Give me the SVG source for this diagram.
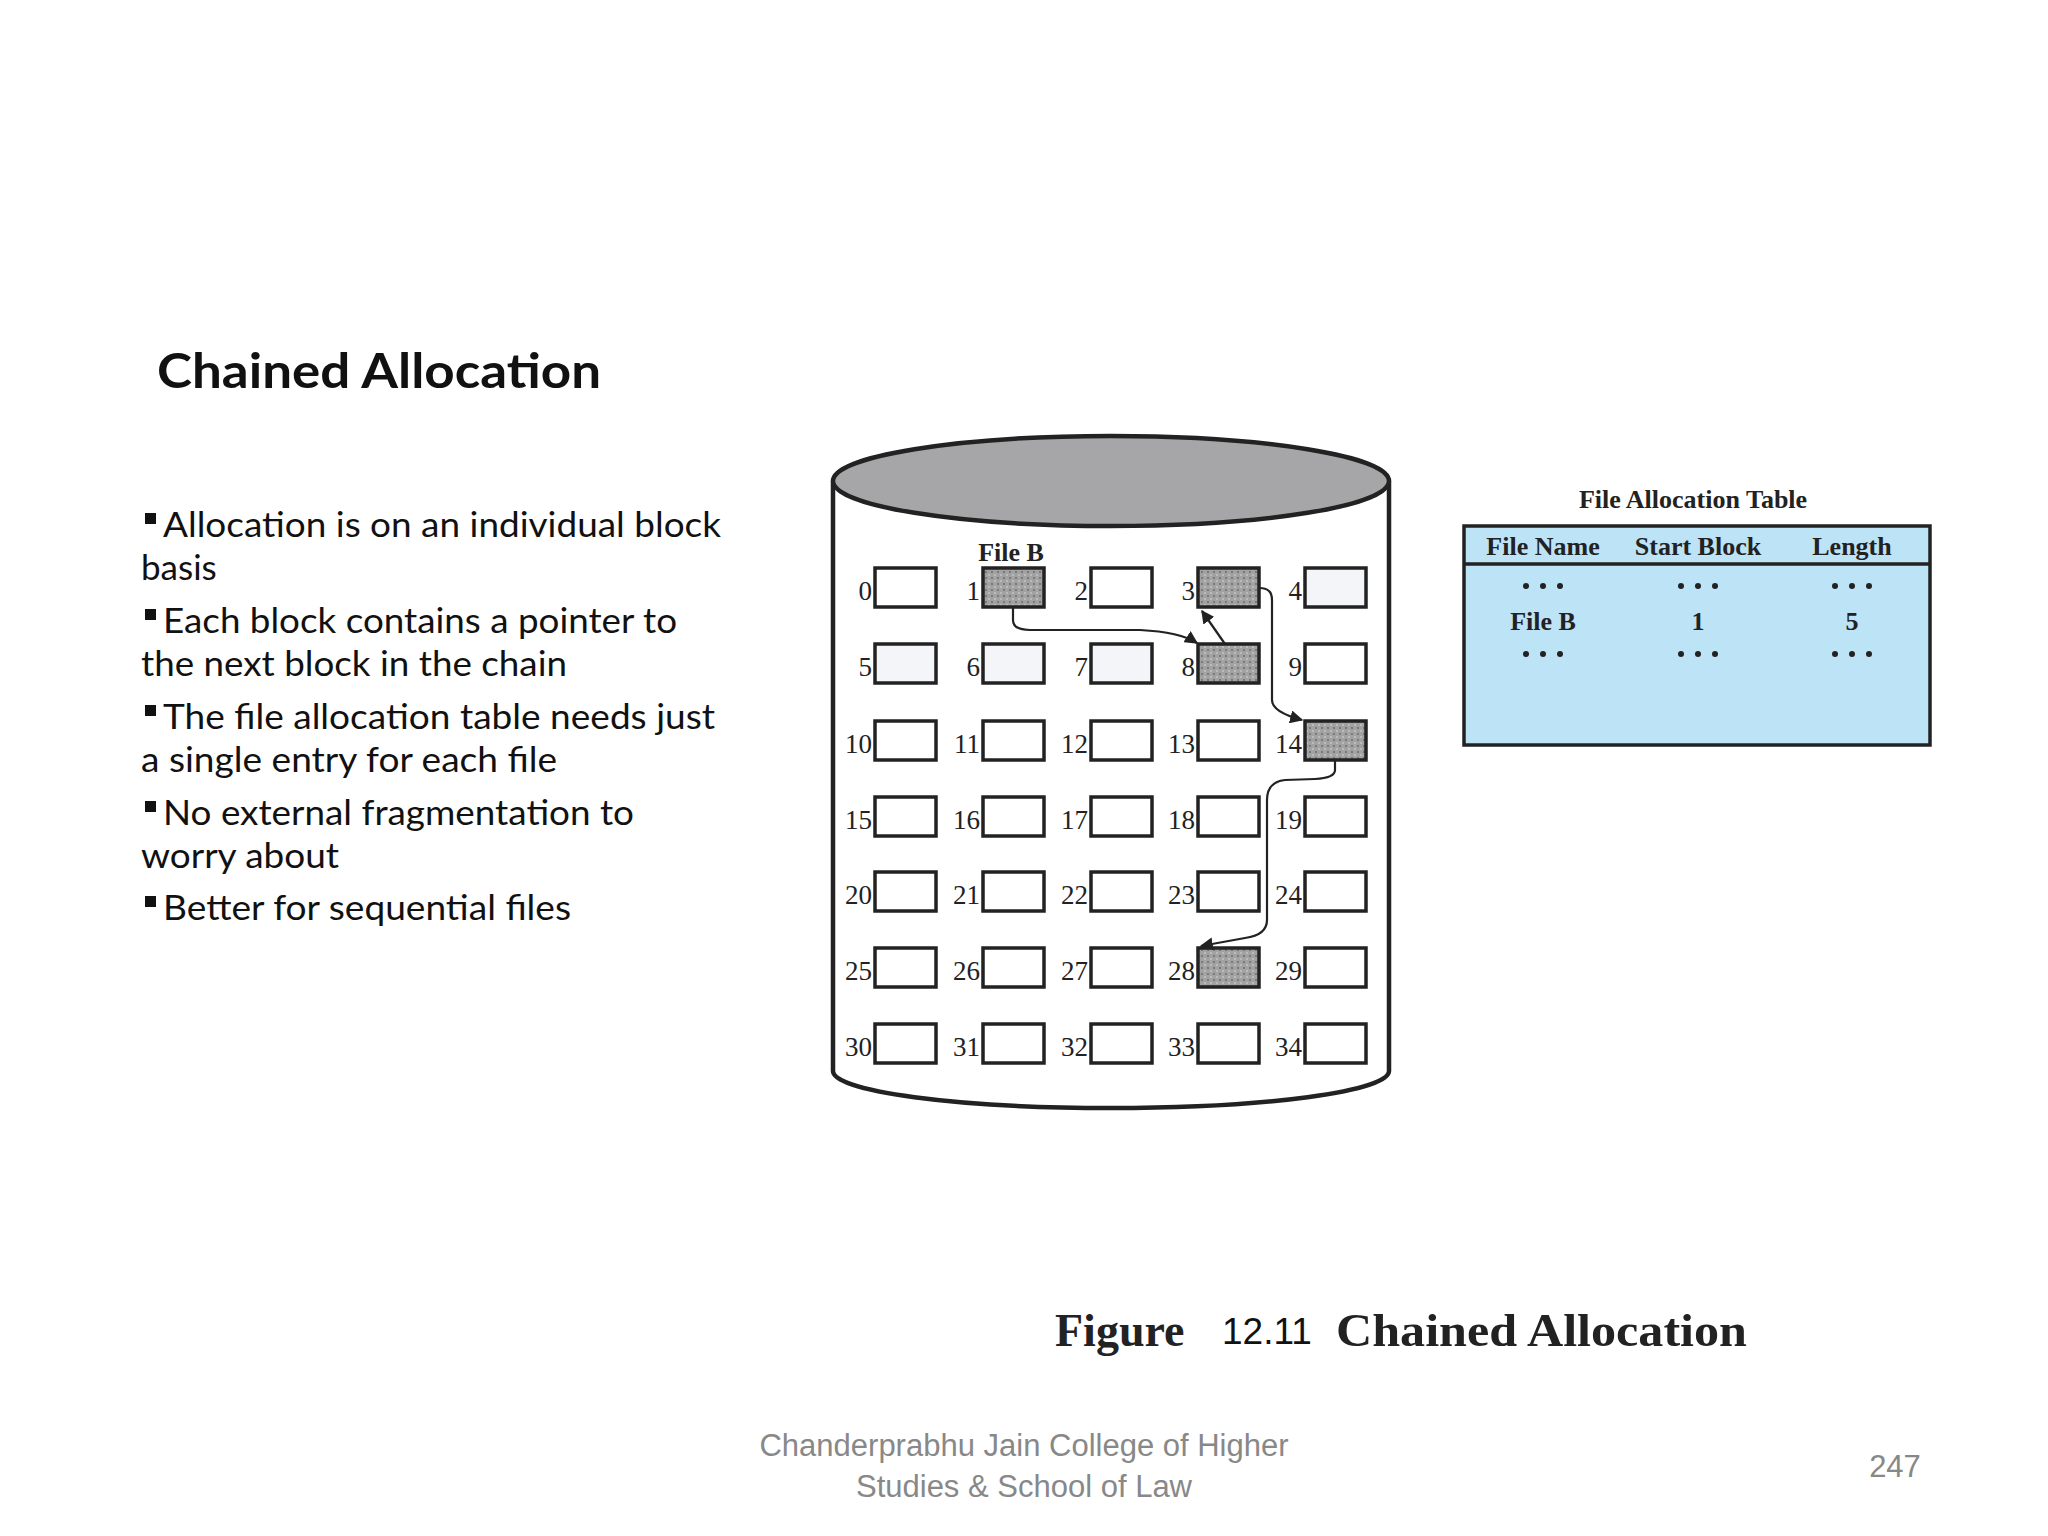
<svg xmlns="http://www.w3.org/2000/svg" width="2048" height="1536" viewBox="0 0 2048 1536">
<defs>
<pattern id="dots" width="6" height="6" patternUnits="userSpaceOnUse"><rect width="6" height="6" fill="#a2a2a2"/><circle cx="2" cy="2" r="0.9" fill="#666"/><circle cx="5" cy="5" r="0.9" fill="#c8c8c8"/></pattern>
<marker id="ah" viewBox="0 0 10 10" refX="9" refY="5" markerWidth="6" markerHeight="6" orient="auto"><path d="M0,0 L10,5 L0,10 z" fill="#222"/></marker>
</defs>
<style>
.b{fill:#fff;stroke:#222;stroke-width:3.5}
.bl{fill:#f4f5f8;stroke:#222;stroke-width:3.5}
.bf{fill:url(#dots);stroke:#222;stroke-width:3.5}
.n{font-family:"Liberation Serif",serif;font-size:27px;fill:#222;text-anchor:end}
.s{font-family:"Liberation Serif",serif;font-weight:bold;fill:#222}
.c{fill:none;stroke:#222;stroke-width:2.2;marker-end:url(#ah)}
.t{font-family:Lato,"Open Sans",sans-serif;font-size:35px;fill:#111}
.f{font-family:"Liberation Sans",Arial,sans-serif;font-size:31px;fill:#888;text-anchor:middle}
</style>
<rect width="2048" height="1536" fill="#fff"/>
<g id="text">
<text x="157" y="388" font-family="Lato,'Open Sans',sans-serif" font-weight="bold" font-size="48" fill="#111" textLength="444" lengthAdjust="spacingAndGlyphs">Chained Allocation</text>
<g fill="#111"><rect x="145" y="513" width="11" height="11"/><rect x="145" y="609" width="11" height="11"/><rect x="145" y="705" width="11" height="11"/><rect x="145" y="801" width="11" height="11"/><rect x="145" y="896" width="11" height="11"/></g>
<text class="t" x="163" y="537" textLength="558" lengthAdjust="spacingAndGlyphs">Allocation is on an individual block</text>
<text class="t" x="141" y="580">basis</text>
<text class="t" x="163" y="633" textLength="514" lengthAdjust="spacingAndGlyphs">Each block contains a pointer to</text>
<text class="t" x="141" y="676" textLength="426" lengthAdjust="spacingAndGlyphs">the next block in the chain</text>
<text class="t" x="163" y="729" textLength="552" lengthAdjust="spacingAndGlyphs">The file allocation table needs just</text>
<text class="t" x="141" y="772" textLength="416" lengthAdjust="spacingAndGlyphs">a single entry for each file</text>
<text class="t" x="163" y="825" textLength="471" lengthAdjust="spacingAndGlyphs">No external fragmentation to</text>
<text class="t" x="141" y="868" textLength="198" lengthAdjust="spacingAndGlyphs">worry about</text>
<text class="t" x="163" y="920" textLength="408" lengthAdjust="spacingAndGlyphs">Better for sequential files</text>
</g>
<g id="disk">
<path d="M833,481 L833,1071 A278,37 0 0 0 1389,1071 L1389,481" fill="#fff" stroke="#222" stroke-width="4.5"/>
<ellipse cx="1111" cy="481" rx="278" ry="45" fill="#a6a6a8" stroke="#222" stroke-width="4.5"/>
<text class="s" x="1011" y="561" font-size="26" text-anchor="middle">File B</text>
</g>
<g id="blocks">
<rect class="b" x="875" y="568" width="61" height="39"/><text class="n" x="872" y="600">0</text>
<rect class="bf" x="983" y="568" width="61" height="39"/><text class="n" x="980" y="600">1</text>
<rect class="b" x="1091" y="568" width="61" height="39"/><text class="n" x="1088" y="600">2</text>
<rect class="bf" x="1198" y="568" width="61" height="39"/><text class="n" x="1195" y="600">3</text>
<rect class="bl" x="1305" y="568" width="61" height="39"/><text class="n" x="1302" y="600">4</text>
<rect class="bl" x="875" y="644" width="61" height="39"/><text class="n" x="872" y="676">5</text>
<rect class="bl" x="983" y="644" width="61" height="39"/><text class="n" x="980" y="676">6</text>
<rect class="bl" x="1091" y="644" width="61" height="39"/><text class="n" x="1088" y="676">7</text>
<rect class="bf" x="1198" y="644" width="61" height="39"/><text class="n" x="1195" y="676">8</text>
<rect class="b" x="1305" y="644" width="61" height="39"/><text class="n" x="1302" y="676">9</text>
<rect class="b" x="875" y="721" width="61" height="39"/><text class="n" x="872" y="753">10</text>
<rect class="b" x="983" y="721" width="61" height="39"/><text class="n" x="980" y="753">11</text>
<rect class="b" x="1091" y="721" width="61" height="39"/><text class="n" x="1088" y="753">12</text>
<rect class="b" x="1198" y="721" width="61" height="39"/><text class="n" x="1195" y="753">13</text>
<rect class="bf" x="1305" y="721" width="61" height="39"/><text class="n" x="1302" y="753">14</text>
<rect class="b" x="875" y="797" width="61" height="39"/><text class="n" x="872" y="829">15</text>
<rect class="b" x="983" y="797" width="61" height="39"/><text class="n" x="980" y="829">16</text>
<rect class="b" x="1091" y="797" width="61" height="39"/><text class="n" x="1088" y="829">17</text>
<rect class="b" x="1198" y="797" width="61" height="39"/><text class="n" x="1195" y="829">18</text>
<rect class="b" x="1305" y="797" width="61" height="39"/><text class="n" x="1302" y="829">19</text>
<rect class="b" x="875" y="872" width="61" height="39"/><text class="n" x="872" y="904">20</text>
<rect class="b" x="983" y="872" width="61" height="39"/><text class="n" x="980" y="904">21</text>
<rect class="b" x="1091" y="872" width="61" height="39"/><text class="n" x="1088" y="904">22</text>
<rect class="b" x="1198" y="872" width="61" height="39"/><text class="n" x="1195" y="904">23</text>
<rect class="b" x="1305" y="872" width="61" height="39"/><text class="n" x="1302" y="904">24</text>
<rect class="b" x="875" y="948" width="61" height="39"/><text class="n" x="872" y="980">25</text>
<rect class="b" x="983" y="948" width="61" height="39"/><text class="n" x="980" y="980">26</text>
<rect class="b" x="1091" y="948" width="61" height="39"/><text class="n" x="1088" y="980">27</text>
<rect class="bf" x="1198" y="948" width="61" height="39"/><text class="n" x="1195" y="980">28</text>
<rect class="b" x="1305" y="948" width="61" height="39"/><text class="n" x="1302" y="980">29</text>
<rect class="b" x="875" y="1024" width="61" height="39"/><text class="n" x="872" y="1056">30</text>
<rect class="b" x="983" y="1024" width="61" height="39"/><text class="n" x="980" y="1056">31</text>
<rect class="b" x="1091" y="1024" width="61" height="39"/><text class="n" x="1088" y="1056">32</text>
<rect class="b" x="1198" y="1024" width="61" height="39"/><text class="n" x="1195" y="1056">33</text>
<rect class="b" x="1305" y="1024" width="61" height="39"/><text class="n" x="1302" y="1056">34</text>
</g>
<g id="connectors">
<path class="c" d="M1013,608 L1013,620 Q1013,630 1030,630 L1140,630 Q1180,632 1197,643"/>
<path class="c" d="M1225,644 L1202,611"/>
<path class="c" d="M1260,588 Q1272,588 1272,600 L1272,700 Q1272,712 1302,720"/>
<path class="c" d="M1335,761 L1335,770 Q1335,778 1315,779 L1285,780 Q1267,782 1267,800 L1267,920 Q1267,935 1245,938 L1201,946"/>
</g>
<g id="fat">
<text class="s" x="1693" y="508" font-size="26" text-anchor="middle">File Allocation Table</text>
<rect x="1464" y="526" width="466" height="219" fill="#bde3f7" stroke="#222" stroke-width="3.5"/>
<line x1="1464" y1="564" x2="1930" y2="564" stroke="#222" stroke-width="3.5"/>
<g class="s" font-size="26" text-anchor="middle">
<text x="1543" y="555">File Name</text><text x="1698" y="555">Start Block</text><text x="1852" y="555">Length</text>
<text x="1543" y="630">File B</text><text x="1698" y="630">1</text><text x="1852" y="630">5</text>
</g>
<g fill="#222">
<circle cx="1526" cy="586" r="3"/><circle cx="1543" cy="586" r="3"/><circle cx="1560" cy="586" r="3"/>
<circle cx="1681" cy="586" r="3"/><circle cx="1698" cy="586" r="3"/><circle cx="1715" cy="586" r="3"/>
<circle cx="1835" cy="586" r="3"/><circle cx="1852" cy="586" r="3"/><circle cx="1869" cy="586" r="3"/>
<circle cx="1526" cy="654" r="3"/><circle cx="1543" cy="654" r="3"/><circle cx="1560" cy="654" r="3"/>
<circle cx="1681" cy="654" r="3"/><circle cx="1698" cy="654" r="3"/><circle cx="1715" cy="654" r="3"/>
<circle cx="1835" cy="654" r="3"/><circle cx="1852" cy="654" r="3"/><circle cx="1869" cy="654" r="3"/>
</g>
</g>
<g id="caption">
<text class="s" x="1055" y="1346" font-size="46" fill="#333">Figure</text>
<text x="1222" y="1344" font-family="'Liberation Sans',Arial,sans-serif" font-size="37" fill="#111">12.11</text>
<text class="s" x="1336" y="1346" font-size="46" fill="#333" textLength="411" lengthAdjust="spacingAndGlyphs">Chained Allocation</text>
</g>
<g id="footer">
<text class="f" x="1024" y="1456">Chanderprabhu Jain College of Higher</text>
<text class="f" x="1024" y="1497">Studies &amp; School of Law</text>
<text class="f" x="1895" y="1477">247</text>
</g>
</svg>
